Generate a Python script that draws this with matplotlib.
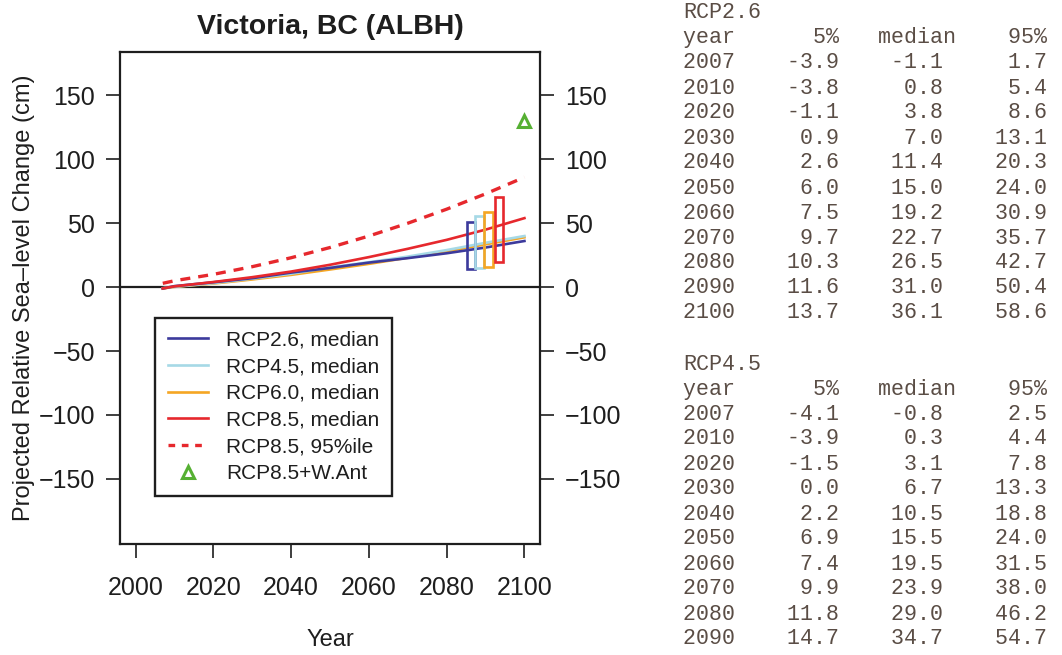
"""
Projected relative sea-level change at Victoria, BC (GPS station ALBH),
with the RCP2.6 / RCP4.5 projection tables printed alongside.
"""
import matplotlib
matplotlib.use("Agg")
import matplotlib.pyplot as plt
from matplotlib.patches import Rectangle
from matplotlib.lines import Line2D

plt.rcParams["font.family"] = ["Liberation Sans", "DejaVu Sans"]

years = [2007, 2010, 2020, 2030, 2040, 2050, 2060, 2070, 2080, 2090, 2100]

# medians (cm)
rcp26_med = [-1.1, 0.8, 3.8, 7.0, 11.4, 15.0, 19.2, 22.7, 26.5, 31.0, 36.1]
rcp45_med = [-0.8, 0.3, 3.1, 6.7, 10.5, 15.5, 19.5, 23.9, 29.0, 34.7, 40.0]
rcp60_med = [-1.0, 0.2, 2.8, 6.0, 9.6, 13.8, 18.2, 23.0, 28.0, 33.5, 39.0]
rcp85_med = [-1.0, 0.6, 4.0, 7.8, 12.2, 17.5, 23.5, 30.0, 37.0, 45.0, 54.0]
rcp85_p95 = [3.0, 5.0, 10.0, 16.0, 23.0, 31.0, 40.0, 50.0, 61.0, 73.0, 86.0]

# likely ranges around 2100, one box per scenario
box_names = ["RCP2.6", "RCP4.5", "RCP6.0", "RCP8.5"]
box_lo = [14.0, 15.0, 15.6, 19.5]
box_hi = [51.0, 55.5, 58.6, 70.3]
box_x = [2085.1, 2087.4, 2089.7, 2092.3]

wais_year = 2100
wais_value = 130.0

# tables: year, 5%, median, 95%
tbl26_years = [2007, 2010, 2020, 2030, 2040, 2050, 2060, 2070, 2080, 2090, 2100]
tbl26_p05 = [-3.9, -3.8, -1.1, 0.9, 2.6, 6.0, 7.5, 9.7, 10.3, 11.6, 13.7]
tbl26_med = [-1.1, 0.8, 3.8, 7.0, 11.4, 15.0, 19.2, 22.7, 26.5, 31.0, 36.1]
tbl26_p95 = [1.7, 5.4, 8.6, 13.1, 20.3, 24.0, 30.9, 35.7, 42.7, 50.4, 58.6]

tbl45_years = [2007, 2010, 2020, 2030, 2040, 2050, 2060, 2070, 2080, 2090]
tbl45_p05 = [-4.1, -3.9, -1.5, 0.0, 2.2, 6.9, 7.4, 9.9, 11.8, 14.7]
tbl45_med = [-0.8, 0.3, 3.1, 6.7, 10.5, 15.5, 19.5, 23.9, 29.0, 34.7]
tbl45_p95 = [2.5, 4.4, 7.8, 13.3, 18.8, 24.0, 31.5, 38.0, 46.2, 54.7]

c26 = "#3c3a9c"
c45 = "#a6d9e6"
c60 = "#f5a623"
c85 = "#e6282d"
cgreen = "#56b033"
ink = "#1e1e1e"

W, H = 1062, 655
fig = plt.figure(figsize=(W / 100, H / 100), dpi=100)
ax = fig.add_axes([120 / W, 1 - 544 / H, 420 / W, 492 / H])

ax.axhline(0, color=ink, lw=1.6, zorder=1)
ax.plot(years, rcp60_med, color=c60, lw=1.9)
ax.plot(years, rcp45_med, color=c45, lw=1.9)
ax.plot(years, rcp26_med, color=c26, lw=1.9)
ax.plot(years, rcp85_med, color=c85, lw=1.9)
ax.plot(years, rcp85_p95, color=c85, lw=2.4, dashes=(3.0, 2.4))

for x0, lo, hi, col in zip(box_x, box_lo, box_hi, [c26, c45, c60, c85]):
    ax.add_patch(Rectangle((x0, lo), 2.3, hi - lo, fill=False,
                           edgecolor=col, lw=1.9, zorder=3))

ax.plot([wais_year], [wais_value], marker="^", ms=9, mfc="none",
        mec=cgreen, mew=2.2, ls="none")

ax.set_xlim(1996, 2104)
ax.set_ylim(-201, 184)
ax.set_xticks([2000, 2020, 2040, 2060, 2080, 2100])
ax.set_yticks([150, 100, 50, 0, -50, -100, -150])
ax.set_yticklabels(["150", "100", "50", "0", "\u221250", "\u2212100", "\u2212150"])
ax.tick_params(axis="both", direction="out", length=10, width=1.2,
               colors=ink, labelsize=18)
ax.tick_params(axis="y", right=True, labelright=True, pad=8)
ax.tick_params(axis="x", pad=13)
for sp in ax.spines.values():
    sp.set_linewidth(1.6)
    sp.set_color(ink)

ax.set_title("Victoria, BC (ALBH)", fontsize=20.5, fontweight="bold",
             color=ink, y=1 + 25 / 492, va="center", pad=0)
ax.set_xlabel("Year", fontsize=17, color=ink, va="center")
ax.xaxis.set_label_coords(0.5, -(640 - 544) / 492)
ax.set_ylabel("Projected Relative Sea\u2013level Change (cm)", fontsize=17,
              color=ink, va="center")
ax.yaxis.set_label_coords(-(120 - 24) / 420, 0.5)

handles = [
    Line2D([], [], color=c26, lw=1.9),
    Line2D([], [], color=c45, lw=1.9),
    Line2D([], [], color=c60, lw=1.9),
    Line2D([], [], color=c85, lw=1.9),
    Line2D([], [], color=c85, lw=2.4, dashes=(2.0, 2.0)),
    Line2D([], [], marker="^", ms=9, mfc="none", mec=cgreen, mew=2.2, ls="none"),
]
labels = ["RCP2.6, median", "RCP4.5, median", "RCP6.0, median",
          "RCP8.5, median", "RCP8.5, 95%ile", "RCP8.5+W.Ant"]
leg = ax.legend(handles, labels, loc="upper left",
                bbox_to_anchor=((155 - 120) / 420, (544 - 318) / 492),
                borderaxespad=0, fontsize=15, frameon=True, fancybox=False,
                framealpha=1, handlelength=1.95, handletextpad=0.85,
                labelspacing=0.37, borderpad=0.6)
leg.get_frame().set_edgecolor(ink)
leg.get_frame().set_linewidth(1.7)
for t in leg.get_texts():
    t.set_color(ink)

# tables on the right, fixed-width rows
tcol = "#5a4d45"
mono = dict(family="Liberation Mono", fontsize=15.6, color=tcol, va="center")
x0 = 683 / W


def row(y, s):
    fig.text(x0, 1 - y / H, s, **mono)


def table(ytop, name, yrs, p05, med, p95):
    row(ytop, name)
    row(ytop + 25, "year" + "5%".rjust(8) + "median".rjust(9) + "95%".rjust(7))
    for i, yr in enumerate(yrs):
        s = f"{yr:4d}{p05[i]:8.1f}{med[i]:8.1f}{p95[i]:8.1f}"
        row(ytop + 50 + 25 * i, s)


table(13, "RCP2.6", tbl26_years, tbl26_p05, tbl26_med, tbl26_p95)
table(364, "RCP4.5", tbl45_years, tbl45_p05, tbl45_med, tbl45_p95)

fig.savefig("out.png", dpi=100)
